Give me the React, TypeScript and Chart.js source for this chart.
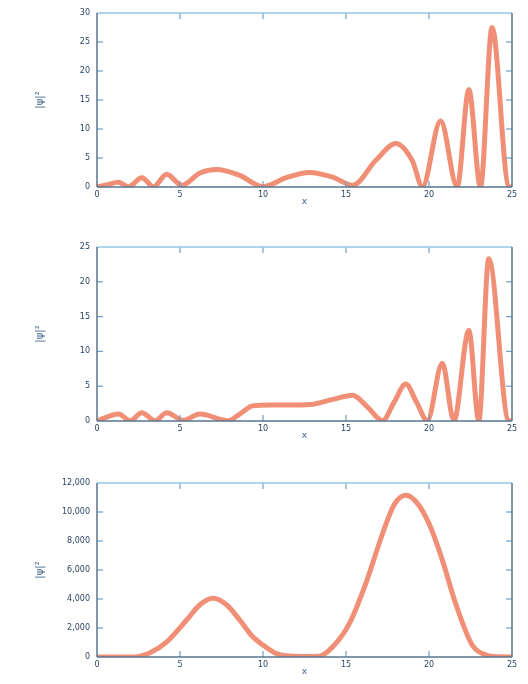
import { useEffect, useRef } from 'react';
import { Chart, registerables } from 'chart.js';

Chart.register(...registerables);

// Shared x axis (position)
const xTicks = [0, 5, 10, 15, 20, 25];

// Panel 1: probability density, state A
const posA = [0, 0.6, 1.3, 1.9, 2.7, 3.4, 4.2, 5.1, 6.2, 7.2, 8.6, 10.0, 11.4, 12.8, 14.2, 15.4, 16.8, 18.0, 19.0, 19.6, 20.7, 21.7, 22.4, 23.1, 23.8, 24.8, 25];
const densA = [0, 0.4, 0.8, 0.05, 1.6, 0.05, 2.2, 0.3, 2.4, 3.0, 2.0, 0.05, 1.6, 2.5, 1.7, 0.3, 4.6, 7.5, 4.5, 0.05, 11.4, 0.05, 16.8, 0.05, 27.5, 0.1, 0];
const yTicksA = [0, 5, 10, 15, 20, 25, 30];

// Panel 2: probability density, state B
const posB = [0, 1.3, 2.0, 2.7, 3.5, 4.2, 5.2, 6.2, 7.9, 8.6, 9.4, 10.5, 12.0, 13.0, 14.2, 15.4, 16.3, 17.2, 17.9, 18.6, 19.25, 19.9, 20.8, 21.5, 22.4, 23.0, 23.6, 24.8, 25];
const densB = [0, 1.0, 0.05, 1.2, 0.05, 1.2, 0.1, 1.0, 0.05, 1.0, 2.2, 2.3, 2.3, 2.4, 3.1, 3.7, 2.0, 0.05, 2.7, 5.3, 2.7, 0.05, 8.3, 0.05, 13.0, 0.05, 23.3, 0.05, 0];
const yTicksB = [0, 5, 10, 15, 20, 25];

// Panel 3: probability density, state C
const posC = [0, 2.2, 3.2, 4.2, 5.4, 6.2, 7.0, 7.8, 8.6, 9.3, 10.0, 10.7, 11.4, 12.5, 13.4, 14.2, 15.2, 16.2, 17.2, 17.9, 18.6, 19.3, 20.0, 20.8, 21.6, 22.6, 23.4, 24.2, 25];
const densC = [0, 0, 300, 1050, 2550, 3600, 4050, 3600, 2550, 1500, 820, 300, 80, 40, 60, 700, 2300, 5100, 8500, 10500, 11150, 10600, 9200, 6700, 3700, 830, 150, 10, 0];
const yTicksC = [0, 2000, 4000, 6000, 8000, 10000, 12000];

const LINE = 'rgba(238,118,88,0.82)';
const FRAME_DARK = '#56758f';
const FRAME_LIGHT = '#93c6ea';
const TICK = '#6f9fc8';
const LABEL = '#2b4460';
const FONT = 'DejaVu Sans';

const boxFrame = {
  id: 'boxFrame',
  afterDraw(chart: any) {
    const { ctx, chartArea } = chart;
    const { left, right, top, bottom } = chartArea;
    const xs = chart.scales.x;
    const ys = chart.scales.y;
    const seg = (x1: number, y1: number, x2: number, y2: number) => {
      ctx.beginPath();
      ctx.moveTo(x1, y1);
      ctx.lineTo(x2, y2);
      ctx.stroke();
    };
    ctx.save();
    ctx.lineWidth = 1.2;
    ctx.strokeStyle = TICK;
    const len = 6;
    xs.ticks.forEach((t: any) => {
      const p = xs.getPixelForValue(t.value);
      if (p <= left + 1 || p >= right - 1) return;
      seg(p, bottom, p, bottom - len);
      seg(p, top, p, top + len);
    });
    ys.ticks.forEach((t: any) => {
      const p = ys.getPixelForValue(t.value);
      if (p <= top + 1 || p >= bottom - 1) return;
      seg(left, p, left + len, p);
      seg(right, p, right - len, p);
    });
    ctx.lineWidth = 1.5;
    ctx.strokeStyle = FRAME_LIGHT;
    seg(left, top, right, top);
    ctx.strokeStyle = FRAME_DARK;
    seg(left, top, left, bottom);
    seg(left, bottom, right, bottom);
    seg(right, top, right, bottom);
    ctx.restore();
  },
};

type PanelProps = {
  xs: number[];
  ys: number[];
  yTicks: number[];
  offset: number;
};

function Panel({ xs, ys, yTicks, offset }: PanelProps) {
  const ref = useRef<HTMLCanvasElement | null>(null);

  useEffect(() => {
    if (!ref.current) return;
    const yMax = yTicks[yTicks.length - 1];
    const chart = new Chart(ref.current, {
      type: 'line',
      data: {
        datasets: [
          {
            data: xs.map((x, i) => ({ x, y: ys[i] })),
            borderColor: LINE,
            borderWidth: 5,
            pointRadius: 0,
            cubicInterpolationMode: 'monotone',
            fill: false,
          },
        ],
      },
      options: {
        responsive: false,
        animation: false,
        events: [],
        plugins: { legend: { display: false }, tooltip: { enabled: false } },
        layout: { padding: 0 },
        scales: {
          x: {
            type: 'linear',
            position: 'bottom',
            min: 0,
            max: 25,
            afterBuildTicks: (s: any) => {
              s.ticks = xTicks.map((v) => ({ value: v }));
            },
            afterFit: (s: any) => {
              s.height = 27;
            },
            grid: { display: false, drawTicks: false },
            border: { display: false },
            ticks: { color: LABEL, font: { family: FONT, size: 8 }, padding: 3, maxRotation: 0 },
            title: {
              display: true,
              text: 'x',
              color: '#3f6388',
              font: { family: FONT, size: 9 },
              padding: { top: 0, bottom: 7 },
            },
          },
          x2: {
            type: 'linear',
            position: 'top',
            min: 0,
            max: 25,
            afterFit: (s: any) => {
              s.height = 13;
            },
            grid: { display: false, drawTicks: false },
            border: { display: false },
            ticks: { display: false },
          },
          y: {
            type: 'linear',
            position: 'left',
            min: 0,
            max: yMax,
            afterBuildTicks: (s: any) => {
              s.ticks = yTicks.map((v) => ({ value: v }));
            },
            afterFit: (s: any) => {
              s.width = 97;
            },
            grid: { display: false, drawTicks: false },
            border: { display: false },
            ticks: { color: LABEL, font: { family: FONT, size: 8 }, padding: 7 },
            title: {
              display: true,
              text: '|ψ|²',
              color: '#3f6388',
              font: { family: FONT, size: 10 },
              padding: { top: 34, bottom: 0 },
            },
          },
          y2: {
            type: 'linear',
            position: 'right',
            min: 0,
            max: yMax,
            afterFit: (s: any) => {
              s.width = 16;
            },
            grid: { display: false, drawTicks: false },
            border: { display: false },
            ticks: { display: false },
          },
        },
      },
      plugins: [boxFrame],
    } as any);
    return () => chart.destroy();
  }, [xs, ys, yTicks]);

  return (
    <canvas
      ref={ref}
      width={528}
      height={214}
      style={{ position: 'absolute', left: 0, top: offset, width: 528, height: 214 }}
    />
  );
}

export default function App() {
  return (
    <div style={{ position: 'absolute', left: 0, top: 0, width: 528, height: 684, background: '#fff' }}>
      <Panel xs={posA} ys={densA} yTicks={yTicksA} offset={0} />
      <Panel xs={posB} ys={densB} yTicks={yTicksB} offset={234} />
      <Panel xs={posC} ys={densC} yTicks={yTicksC} offset={470} />
    </div>
  );
}
